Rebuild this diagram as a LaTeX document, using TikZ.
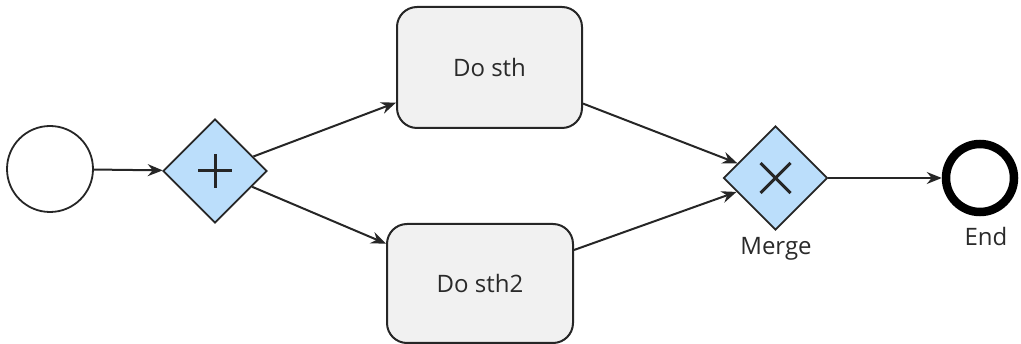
\documentclass[tikz,border=0pt]{standalone}
\usepackage{fontspec}
\setmainfont{Open Sans}
\usetikzlibrary{shapes.geometric,arrows.meta}
\definecolor{gwfill}{HTML}{BBDEFB}
\definecolor{taskfill}{HTML}{F1F1F1}
\definecolor{edge}{HTML}{262626}
\definecolor{txt}{HTML}{2A2A2A}
\tikzset{
  every node/.style={font=\fontsize{24}{28}\selectfont},
  startev/.style={circle, draw=edge, line width=1.8pt, fill=white, minimum size=86pt, inner sep=0},
  endev/.style={circle, draw=black, line width=8.5pt, fill=white, minimum size=68pt, inner sep=0},
  gateway/.style={diamond, draw=edge, line width=1.8pt, fill=gwfill, minimum width=104pt, minimum height=104pt, inner sep=0},
  task/.style={rectangle, rounded corners=20pt, draw=edge, line width=2pt, fill=taskfill, text=txt, inner sep=0},
  flow/.style={draw=edge, line width=2pt, -{Stealth[length=15pt,width=12pt,inset=5pt]}},
  lbl/.style={text=txt, inner sep=0}
}
\begin{document}
\begin{tikzpicture}[x=1pt,y=-1pt]
\useasboundingbox (0,0) rectangle (1021,344);
\node[startev] (start) at (50,169) {};
\node[gateway] (fork) at (215,171) {};
\node[task, minimum width=185pt, minimum height=121pt] (t1) at (489.5,67.5) {Do sth};
\node[task, minimum width=186pt, minimum height=119pt] (t2) at (480,283.5) {Do sth2};
\node[gateway] (merge) at (775.5,178) {};
\node[endev] (end) at (980,178) {};
\node[lbl] (mergelbl) at (776,249) {Merge};
\node[lbl] (endlbl) at (986,237) {End};
% gateway markers
\draw[edge, line width=3pt] ([xshift=-17pt]fork.center) -- ([xshift=17pt]fork.center);
\draw[edge, line width=3pt] ([yshift=-17pt]fork.center) -- ([yshift=17pt]fork.center);
\draw[edge, line width=3pt] ([xshift=-15pt,yshift=-15pt]merge.center) -- ([xshift=15pt,yshift=15pt]merge.center);
\draw[edge, line width=3pt] ([xshift=-15pt,yshift=15pt]merge.center) -- ([xshift=15pt,yshift=-15pt]merge.center);
% flows
\draw[flow] (start) -- (fork);
\draw[flow] (fork) -- (t1);
\draw[flow] (fork) -- (t2);
\draw[flow] (t1) -- (merge);
\draw[flow] (t2) -- (merge);
\draw[flow] (merge) -- (end);
\end{tikzpicture}
\end{document}
